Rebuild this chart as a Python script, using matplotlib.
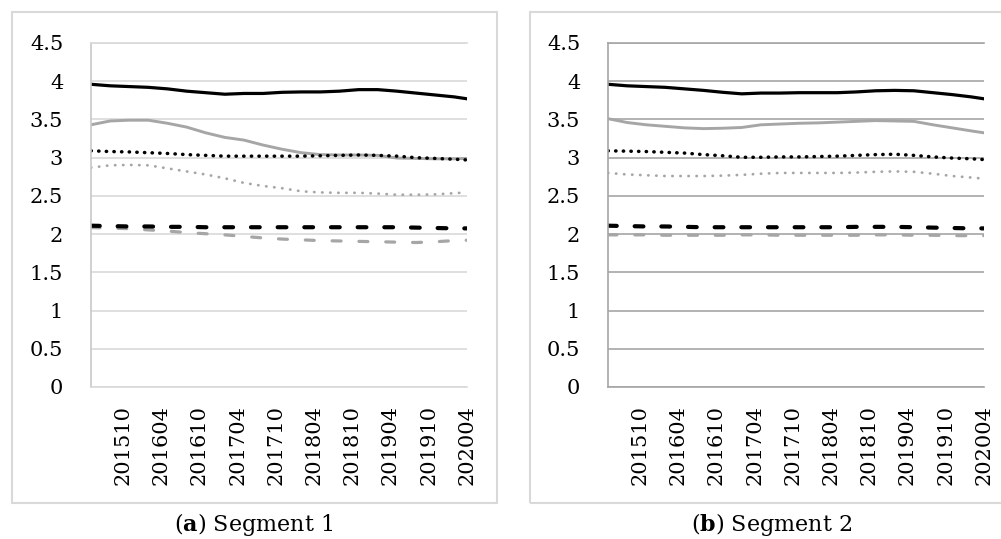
import matplotlib
matplotlib.use("Agg")
import matplotlib.pyplot as plt
from matplotlib.patches import Rectangle

# Meses amostrados (trimestral) e rotulos do eixo X
meses = ["201505", "201508", "201511", "201602", "201605", "201608", "201611",
         "201702", "201705", "201708", "201711", "201802", "201805", "201808",
         "201811", "201902", "201905", "201908", "201911", "202002", "202004"]
rotulos_x = ["201510", "201604", "201610", "201704", "201710",
             "201804", "201810", "201904", "201910", "202004"]
rotulos_y = ["0", "0.5", "1", "1.5", "2", "2.5", "3", "3.5", "4", "4.5"]

# Segmento 1
seg1_preto_cheio = [3.96, 3.94, 3.93, 3.92, 3.90, 3.87, 3.85, 3.83, 3.84, 3.84, 3.855,
                    3.86, 3.86, 3.87, 3.89, 3.89, 3.87, 3.845, 3.82, 3.795, 3.77]
seg1_cinza_cheio = [3.43, 3.48, 3.49, 3.49, 3.45, 3.40, 3.325, 3.265, 3.23, 3.165, 3.11,
                    3.065, 3.04, 3.035, 3.035, 3.03, 2.995, 2.99, 2.985, 2.985, 2.99]
seg1_preto_ponto = [3.09, 3.08, 3.075, 3.065, 3.055, 3.04, 3.03, 3.02, 3.02, 3.02, 3.02,
                    3.02, 3.025, 3.03, 3.035, 3.03, 3.02, 3.0, 2.99, 2.98, 2.97]
seg1_cinza_ponto = [2.87, 2.90, 2.905, 2.90, 2.86, 2.82, 2.78, 2.73, 2.67, 2.63, 2.60,
                    2.56, 2.545, 2.54, 2.54, 2.53, 2.515, 2.515, 2.52, 2.535, 2.545]
seg1_preto_traco = [2.11, 2.105, 2.10, 2.10, 2.095, 2.095, 2.09, 2.09, 2.09, 2.09, 2.09,
                    2.09, 2.09, 2.09, 2.09, 2.09, 2.09, 2.085, 2.08, 2.075, 2.075]
seg1_cinza_traco = [2.085, 2.08, 2.07, 2.055, 2.04, 2.02, 2.005, 1.99, 1.97, 1.95, 1.935,
                    1.925, 1.915, 1.91, 1.905, 1.90, 1.895, 1.89, 1.90, 1.915, 1.92]

# Segmento 2
seg2_preto_cheio = [3.96, 3.94, 3.93, 3.92, 3.90, 3.88, 3.855, 3.835, 3.845, 3.845, 3.85,
                    3.85, 3.85, 3.86, 3.875, 3.88, 3.875, 3.85, 3.825, 3.795, 3.77]
seg2_cinza_cheio = [3.51, 3.46, 3.43, 3.41, 3.39, 3.38, 3.385, 3.395, 3.43, 3.44, 3.45,
                    3.455, 3.465, 3.475, 3.485, 3.48, 3.475, 3.43, 3.39, 3.35, 3.325]
seg2_preto_ponto = [3.09, 3.085, 3.08, 3.07, 3.06, 3.04, 3.025, 3.005, 3.005, 3.01, 3.01,
                    3.015, 3.02, 3.03, 3.04, 3.045, 3.03, 3.01, 2.995, 2.985, 2.975]
seg2_cinza_ponto = [2.80, 2.78, 2.77, 2.76, 2.76, 2.76, 2.765, 2.775, 2.79, 2.80, 2.80,
                    2.80, 2.80, 2.805, 2.815, 2.82, 2.815, 2.79, 2.76, 2.74, 2.725]
seg2_preto_traco = [2.11, 2.105, 2.10, 2.10, 2.095, 2.09, 2.09, 2.09, 2.09, 2.09, 2.09,
                    2.09, 2.09, 2.095, 2.095, 2.095, 2.09, 2.085, 2.08, 2.075, 2.075]
seg2_cinza_traco = [1.99, 1.99, 1.99, 1.985, 1.985, 1.985, 1.985, 1.99, 1.99, 1.985, 1.985,
                    1.985, 1.985, 1.985, 1.99, 1.99, 1.985, 1.985, 1.98, 1.98, 1.98]


def indice_mes(m):
    # numero de meses desde 201505
    return (int(m[:4]) - 2015) * 12 + int(m[4:]) - 5


x = [indice_mes(m) for m in meses]
x_ticks = [indice_mes(m) for m in rotulos_x]

CINZA = "#a6a6a6"
FONTE = "DejaVu Serif"
plt.rcParams["mathtext.fontset"] = "dejavuserif"

fig = plt.figure(figsize=(10.01, 5.39), dpi=100)

# moldura cinza de cada grafico
fig.patches.append(Rectangle((12 / 1001, 1 - 503 / 539), 485 / 1001, 491 / 539,
                             transform=fig.transFigure, fill=False,
                             edgecolor="#d9d9d9", lw=1.5))
fig.patches.append(Rectangle((530 / 1001, 1 - 503 / 539), 600 / 1001, 491 / 539,
                             transform=fig.transFigure, fill=False,
                             edgecolor="#d9d9d9", lw=1.5))

paineis = [
    (91, "#d9d9d9", "#c8c8c8",
     [seg1_preto_cheio, seg1_cinza_cheio, seg1_preto_ponto,
      seg1_cinza_ponto, seg1_preto_traco, seg1_cinza_traco]),
    (608, "#a6a6a6", "#a6a6a6",
     [seg2_preto_cheio, seg2_cinza_cheio, seg2_preto_ponto,
      seg2_cinza_ponto, seg2_preto_traco, seg2_cinza_traco]),
]

for esq, cor_grade, cor_eixo, series in paineis:
    ax = fig.add_axes([esq / 1001, 1 - 387 / 539, 376 / 1001, 344 / 539])
    pc, cc, pp, cp, pt, ct = series

    # linhas cinzas primeiro, pretas por cima
    ax.plot(x, cc, color=CINZA, lw=2.1, solid_capstyle="round")
    ax.plot(x, cp, color=CINZA, lw=2.0, dashes=(0.1, 2.8), dash_capstyle="round")
    ax.plot(x, ct, color=CINZA, lw=2.3, dashes=(2.8, 5.6), dash_capstyle="round")
    ax.plot(x, pc, color="black", lw=2.3, solid_capstyle="round")
    ax.plot(x, pp, color="black", lw=2.5, dashes=(0.1, 2.1), dash_capstyle="round")
    ax.plot(x, pt, color="black", lw=3.0, dashes=(2.1, 4.3), dash_capstyle="round")

    ax.set_xlim(0, 59)
    ax.set_ylim(0, 4.5)
    ax.set_yticks([i * 0.5 for i in range(10)])
    ax.set_yticklabels(rotulos_y, fontsize=15, family=FONTE)
    ax.set_xticks(x_ticks)
    ax.set_xticklabels(rotulos_x, rotation=90, fontsize=15, family=FONTE)
    ax.tick_params(axis="y", length=0, pad=20)
    ax.tick_params(axis="x", length=0, pad=13)

    ax.grid(axis="y", color=cor_grade, lw=1.2)
    ax.set_axisbelow(True)
    for lado in ["top", "bottom"]:
        ax.spines[lado].set_color(cor_grade)
        ax.spines[lado].set_linewidth(1.2)
    ax.spines["right"].set_visible(False)
    ax.spines["left"].set_color(cor_eixo)
    ax.spines["left"].set_linewidth(1.2)

# legendas abaixo
fig.text(254 / 1001, 1 - 525 / 539, r"($\mathbf{a}$) Segment 1", ha="center",
         va="center", fontsize=16, family=FONTE)
fig.text(772 / 1001, 1 - 525 / 539, r"($\mathbf{b}$) Segment 2", ha="center",
         va="center", fontsize=16, family=FONTE)

plt.savefig("out.png", dpi=100)
